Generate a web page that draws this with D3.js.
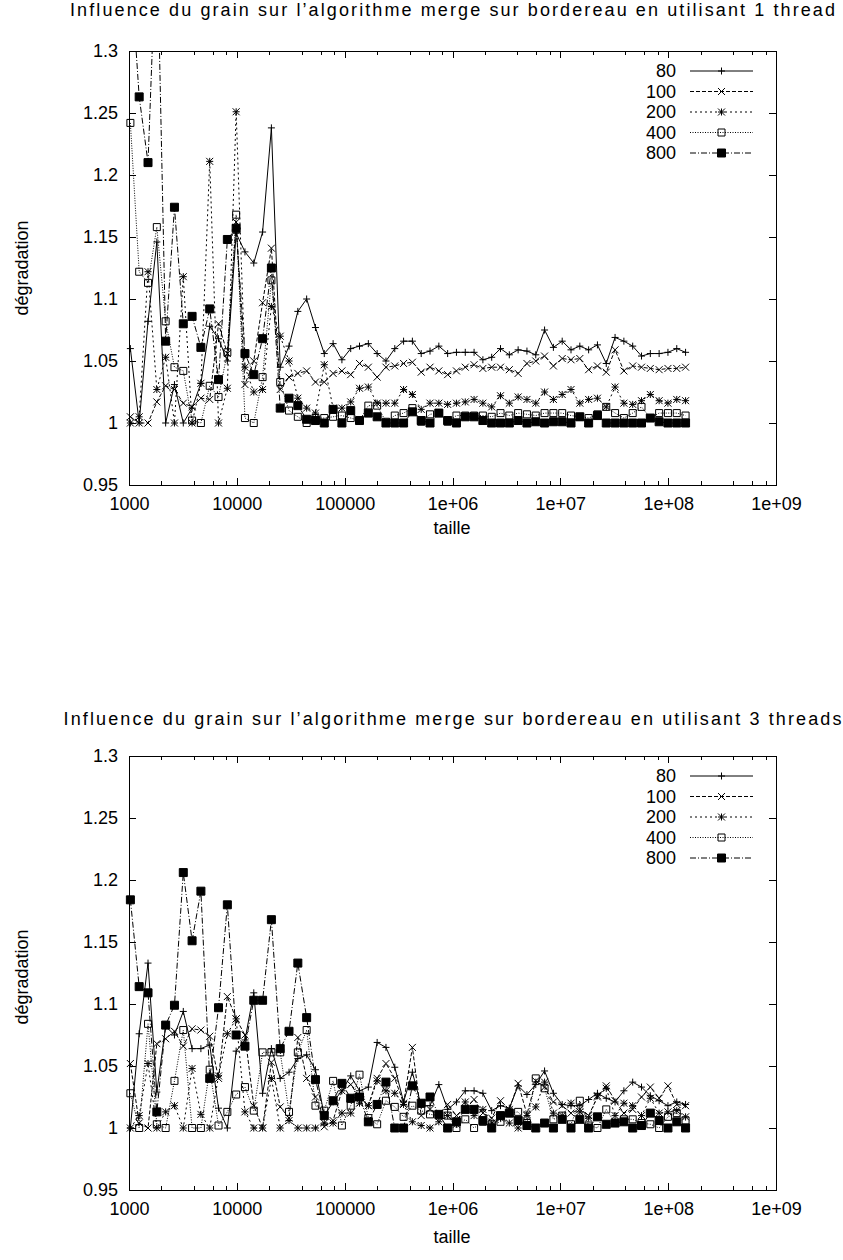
<!DOCTYPE html>
<html><head>
<meta charset="utf-8">
<title>Influence du grain - merge sur bordereau</title>
<script src="https://d3js.org/d3.v7.min.js"></script>
<style>
  body { margin: 0; background: #fff; }
  text { font-family: "Liberation Sans", Arial, Helvetica, sans-serif; font-size: 18px; fill: #000; }
  .axis line { stroke: #000; shape-rendering: crispEdges; }
</style>
</head>
<body>
<svg id="chart" width="843" height="1260"></svg>

<script>

// problem sizes (same for both runs)
const sizes = [1030, 1243, 1501, 1812, 2187, 2640, 3187, 3846, 4643, 5604,
  6765, 8166, 9855, 11897, 14359, 17333, 20922, 25253, 30479, 36793,
  44412, 53604, 64700, 78105, 94277, 113763, 137310, 165760, 200110, 241490,
  291480, 351830, 424620, 512740, 618730, 746830, 901470, 1088000, 1313500, 1585300,
  1913400, 2309400, 2787300, 3365100, 4061400, 4902300, 5917000, 7141600, 8622500, 10406000,
  12560000, 15160000, 18297000, 22091000, 26663000, 32181000, 38843000, 46881000, 56600000, 68315000,
  82453000, 99517000, 120120000, 145020000];

const grains = ["80", "100", "200", "400", "800"];

// 1 thread
const oneThread80 = [1.060, 1.0, 1.082, 1.146, 1.0, 1.031, 1.0, 1.012, 1.032, 1.078,
  1.068, 1.05, 1.153, 1.138, 1.129, 1.154, 1.238, 1.045, 1.062, 1.090,
  1.100, 1.077, 1.056, 1.064, 1.051, 1.060, 1.062, 1.064, 1.056, 1.050,
  1.060, 1.066, 1.066, 1.056, 1.058, 1.062, 1.056, 1.057, 1.057, 1.057,
  1.051, 1.053, 1.060, 1.055, 1.059, 1.058, 1.055, 1.075, 1.061, 1.066,
  1.059, 1.062, 1.059, 1.063, 1.048, 1.069, 1.066, 1.062, 1.054, 1.056,
  1.056, 1.057, 1.060, 1.057];
const oneThread100 = [1.005, 1.0, 1.0, 1.017, 1.03, 1.027, 1.016, 1.013, 1.02, 1.019,
  1.08, 1.056, 1.162, 1.031, 1.05, 1.097, 1.141, 1.027, 1.037, 1.040,
  1.042, 1.033, 1.033, 1.040, 1.042, 1.039, 1.048, 1.045, 1.037, 1.045,
  1.046, 1.048, 1.049, 1.041, 1.045, 1.042, 1.039, 1.042, 1.045, 1.047,
  1.044, 1.045, 1.045, 1.043, 1.040, 1.048, 1.050, 1.054, 1.046, 1.052,
  1.051, 1.052, 1.043, 1.046, 1.041, 1.059, 1.042, 1.046, 1.045, 1.044,
  1.043, 1.044, 1.044, 1.045];
const oneThread200 = [1.0, 1.005, 1.122, 1.027, 1.053, 1.0, 1.118, 1.0, 1.032, 1.211,
  1.0, 1.028, 1.251, 1.045, 1.025, 1.027, 1.094, 1.070, 1.050, 1.020,
  1.012, 1.008, 1.047, 1.012, 1.012, 1.017, 1.028, 1.029, 1.016, 1.016,
  1.016, 1.027, 1.023, 1.011, 1.016, 1.016, 1.015, 1.016, 1.017, 1.019,
  1.016, 1.013, 1.022, 1.016, 1.021, 1.019, 1.016, 1.025, 1.019, 1.023,
  1.027, 1.016, 1.019, 1.020, 1.013, 1.029, 1.016, 1.015, 1.018, 1.023,
  1.018, 1.016, 1.019, 1.018];
const oneThread400 = [1.242, 1.122, 1.113, 1.158, 1.082, 1.045, 1.042, 1.002, 1.0, 1.030,
  1.021, 1.057, 1.168, 1.004, 1.0, 1.037, 1.115, 1.033, 1.01, 1.005,
  1.0, 1.004, 1.004, 1.005, 1.006, 1.004, 1.002, 1.014, 1.014, 1.001,
  1.006, 1.008, 1.012, 1.001, 1.007, 1.008, 1.001, 1.006, 1.006, 1.006,
  1.006, 1.005, 1.008, 1.006, 1.008, 1.007, 1.006, 1.008, 1.008, 1.008,
  1.006, 1.005, 1.004, 1.007, 1.013, 1.008, 1.004, 1.008, 1.013, 1.004,
  1.008, 1.008, 1.008, 1.006];
const oneThread800 = [1.37, 1.263, 1.210, 1.40, 1.066, 1.174, 1.080, 1.086, 1.061, 1.092,
  1.035, 1.148, 1.157, 1.056, 1.039, 1.068, 1.125, 1.012, 1.020, 1.014,
  1.003, 1.002, 1.0, 1.011, 1.0, 1.010, 1.002, 1.008, 1.005, 1.0,
  1.0, 1.0, 1.009, 1.002, 1.0, 1.008, 1.002, 1.0, 1.005, 1.005,
  1.002, 1.0, 1.0, 1.0, 1.002, 1.0, 1.001, 1.0, 1.001, 1.001,
  1.0, 1.005, 1.0, 1.006, 1.0, 1.0, 1.0, 1.0, 1.0, 1.004,
  1.001, 1.0, 1.0, 1.0];

// 3 threads
const threeThreads80 = [1.0, 1.076, 1.133, 1.029, 1.082, 1.075, 1.094, 1.064, 1.064, 1.067,
  1.016, 1.0, 1.062, 1.071, 1.109, 1.028, 1.064, 1.040, 1.045, 1.056,
  1.059, 1.047, 1.010, 1.021, 1.030, 1.042, 1.030, 1.033, 1.069, 1.065,
  1.049, 1.021, 1.045, 1.018, 1.018, 1.035, 1.015, 1.021, 1.030, 1.030,
  1.028, 1.014, 1.018, 1.016, 1.034, 1.027, 1.035, 1.046, 1.028, 1.019,
  1.018, 1.018, 1.023, 1.028, 1.024, 1.021, 1.030, 1.037, 1.033, 1.026,
  1.022, 1.018, 1.021, 1.019];
const threeThreads100 = [1.052, 1.004, 1.0, 1.068, 1.072, 1.078, 1.066, 1.080, 1.079, 1.074,
  1.040, 1.106, 1.088, 1.075, 1.018, 1.0, 1.053, 1.017, 1.008, 1.073,
  1.040, 1.025, 1.001, 1.006, 1.03, 1.035, 1.025, 1.018, 1.040, 1.052,
  1.040, 1.020, 1.065, 1.010, 1.015, 1.011, 1.019, 1.010, 1.015, 1.023,
  1.012, 1.008, 1.022, 1.015, 1.036, 1.011, 1.038, 1.033, 1.021, 1.018,
  1.012, 1.015, 1.010, 1.025, 1.034, 1.022, 1.012, 1.015, 1.025, 1.033,
  1.024, 1.034, 1.019, 1.018];
const threeThreads200 = [1.0, 1.010, 1.052, 1.0, 1.013, 1.018, 1.0, 1.048, 1.011, 1.0,
  1.042, 1.076, 1.088, 1.013, 1.0, 1.0, 1.040, 1.0, 1.006, 1.0,
  1.0, 1.0, 1.004, 1.004, 1.012, 1.012, 1.020, 1.018, 1.038, 1.030,
  1.028, 1.019, 1.005, 1.002, 1.0, 1.005, 1.010, 1.003, 1.021, 1.010,
  1.015, 1.004, 1.008, 1.004, 1.0, 1.010, 1.017, 1.037, 1.012, 1.010,
  1.020, 1.013, 1.008, 1.026, 1.032, 1.010, 1.020, 1.018, 1.010, 1.024,
  1.012, 1.013, 1.014, 1.009];
const threeThreads400 = [1.028, 1.0, 1.084, 1.003, 1.0, 1.038, 1.079, 1.0, 1.0, 1.047,
  1.002, 1.013, 1.027, 1.033, 1.014, 1.061, 1.061, 1.061, 1.013, 1.061,
  1.079, 1.018, 1.014, 1.038, 1.002, 1.018, 1.043, 1.008, 1.003, 1.022,
  1.017, 1.009, 1.018, 1.014, 1.011, 1.010, 1.010, 1.0, 1.007, 1.0,
  1.005, 1.003, 1.005, 1.012, 1.013, 1.004, 1.040, 1.032, 1.007, 1.010,
  1.003, 1.022, 1.002, 1.0, 1.015, 1.004, 1.007, 1.007, 1.004, 1.003,
  1.0, 1.009, 1.012, 1.006];
const threeThreads800 = [1.184, 1.114, 1.109, 1.013, 1.083, 1.099, 1.206, 1.151, 1.191, 1.040,
  1.097, 1.180, 1.075, 1.066, 1.103, 1.103, 1.168, 1.064, 1.078, 1.133,
  1.089, 1.039, 1.010, 1.022, 1.036, 1.024, 1.025, 1.005, 1.019, 1.037,
  1.0, 1.0, 1.034, 1.020, 1.025, 1.011, 1.0, 1.005, 1.015, 1.015,
  1.006, 1.0, 1.010, 1.012, 1.006, 1.002, 1.0, 1.004, 1.0, 1.007,
  1.0, 1.007, 1.0, 1.009, 1.003, 1.004, 1.005, 1.0, 1.002, 1.012,
  1.006, 1.0, 1.005, 1.0];

const xTickValues = [1e3, 1e4, 1e5, 1e6, 1e7, 1e8, 1e9];
const xTickLabels = ["1000", "10000", "100000", "1e+06", "1e+07", "1e+08", "1e+09"];
const yTickValues = [0.95, 1, 1.05, 1.1, 1.15, 1.2, 1.25, 1.3];
const yTickLabels = ["0.95", "1", "1.05", "1.1", "1.15", "1.2", "1.25", "1.3"];

const panels = [
  { title: "Influence du grain sur l\u2019algorithme merge sur bordereau en utilisant 1 thread",
    titleWidth: 765, top: 51, textShift: 0,
    series: [oneThread80, oneThread100, oneThread200, oneThread400, oneThread800] },
  { title: "Influence du grain sur l\u2019algorithme merge sur bordereau en utilisant 3 threads",
    titleWidth: 778, top: 756, textShift: 709,
    series: [threeThreads80, threeThreads100, threeThreads200, threeThreads400, threeThreads800] }
];

// gnuplot-ish line styles / point types, one per grain
const dashes = [null, "4,2", "2,3", "1,1.5", "6,2,1,2"];
const points = ["plus", "cross", "star", "box", "fbox"];

function pointPath(type, s) {
  if (type == "plus") return `M${-s},0H${s}M0,${-s}V${s}`;
  if (type == "cross") return `M${-s},${-s}L${s},${s}M${-s},${s}L${s},${-s}`;
  if (type == "star") return `M${-s},0H${s}M0,${-s}V${s}M${-s},${-s}L${s},${s}M${-s},${s}L${s},${-s}`;
  return `M${-s},${-s}H${s}V${s}H${-s}Z`;
}

const svg = d3.select("#chart");
const plotLeft = 129, plotRight = 776, plotHeight = 434;

panels.forEach((p, k) => {

  const x = d3.scaleLog().domain([1e3, 1e9]).range([plotLeft, plotRight]);
  const y = d3.scaleLinear().domain([0.95, 1.3]).range([p.top + plotHeight, p.top]);
  const bottom = p.top + plotHeight;

  const layer = svg.append("g");

  // minor ticks on x (2,4,6,8 in every decade)
  let xMinor = [];
  for (let d = 1e3; d < 1e9; d *= 10) [2, 4, 6, 8].forEach(m => xMinor.push(d * m));

  layer.append("g").attr("class", "axis")
    .attr("transform", `translate(0,${bottom})`)
    .call(d3.axisBottom(x).tickValues(xTickValues).tickFormat((d, i) => xTickLabels[i])
      .tickSizeInner(-7).tickSizeOuter(0).tickPadding(12));
  layer.append("g").attr("class", "axis")
    .attr("transform", `translate(0,${bottom})`)
    .call(d3.axisBottom(x).tickValues(xMinor).tickFormat("").tickSizeInner(-4).tickSizeOuter(0));
  layer.append("g").attr("class", "axis")
    .attr("transform", `translate(0,${p.top})`)
    .call(d3.axisTop(x).tickValues(xTickValues).tickFormat("").tickSizeInner(-7).tickSizeOuter(0));
  layer.append("g").attr("class", "axis")
    .attr("transform", `translate(0,${p.top})`)
    .call(d3.axisTop(x).tickValues(xMinor).tickFormat("").tickSizeInner(-4).tickSizeOuter(0));

  layer.append("g").attr("class", "axis")
    .attr("transform", `translate(${plotLeft},0)`)
    .call(d3.axisLeft(y).tickValues(yTickValues).tickFormat((d, i) => yTickLabels[i])
      .tickSizeInner(-7).tickSizeOuter(0).tickPadding(11));
  layer.append("g").attr("class", "axis")
    .attr("transform", `translate(${plotRight},0)`)
    .call(d3.axisRight(y).tickValues(yTickValues).tickFormat("").tickSizeInner(-7).tickSizeOuter(0));

  layer.selectAll(".axis .domain").remove();
  layer.selectAll(".axis").attr("font-size", null).attr("font-family", null);

  layer.append("rect")
    .attr("x", plotLeft).attr("y", p.top)
    .attr("width", plotRight - plotLeft).attr("height", plotHeight)
    .attr("fill", "none").attr("stroke", "#000").attr("stroke-width", 1)
    .attr("shape-rendering", "crispEdges");

  // clip lines at the border like gnuplot does
  svg.append("clipPath").attr("id", "clip" + k)
    .append("rect").attr("x", plotLeft).attr("y", p.top)
    .attr("width", plotRight - plotLeft).attr("height", plotHeight);

  const line = d3.line().x((d, i) => x(sizes[i])).y(d => y(d));

  p.series.forEach((values, s) => {
    layer.append("path")
      .datum(values)
      .attr("clip-path", `url(#clip${k})`)
      .attr("d", line)
      .attr("fill", "none")
      .attr("stroke", "#000")
      .attr("stroke-width", 1)
      .attr("stroke-dasharray", dashes[s]);

    const inside = values.map((v, i) => ({ v: v, size: sizes[i] })).filter(d => d.v <= 1.3);
    layer.selectAll(null).data(inside)
      .join("path")
      .attr("transform", d => `translate(${x(d.size)},${y(d.v)})`)
      .attr("d", pointPath(points[s], points[s] == "fbox" ? 4 : 3.5))
      .attr("fill", points[s] == "fbox" ? "#000" : "none")
      .attr("stroke", "#000")
      .attr("stroke-width", 1);
  });

  // key
  const key = layer.append("g");
  grains.forEach((g, s) => {
    const ky = p.top + 20 + s * 20.5;
    key.append("text").attr("x", 676).attr("y", ky).attr("dy", "0.35em")
      .attr("text-anchor", "end").text(g);
    key.append("line").attr("x1", 690).attr("x2", 753).attr("y1", ky).attr("y2", ky)
      .attr("stroke", "#000").attr("stroke-width", 1).attr("stroke-dasharray", dashes[s]);
    key.append("path").attr("transform", `translate(721.5,${ky})`)
      .attr("d", pointPath(points[s], points[s] == "fbox" ? 4 : 3.5))
      .attr("fill", points[s] == "fbox" ? "#000" : "none")
      .attr("stroke", "#000");
  });

  // titles and axis labels
  layer.append("text").attr("x", 452.5).attr("y", 16 + p.textShift)
    .attr("text-anchor", "middle")
    .attr("textLength", p.titleWidth).attr("lengthAdjust", "spacing")
    .text(p.title);
  layer.append("text").attr("x", 452).attr("y", 534 + p.textShift)
    .attr("text-anchor", "middle").text("taille");
  layer.append("text")
    .attr("transform", `translate(28,${268 + p.textShift}) rotate(-90)`)
    .attr("text-anchor", "middle").text("dégradation");
});

</script>
</body>
</html>
